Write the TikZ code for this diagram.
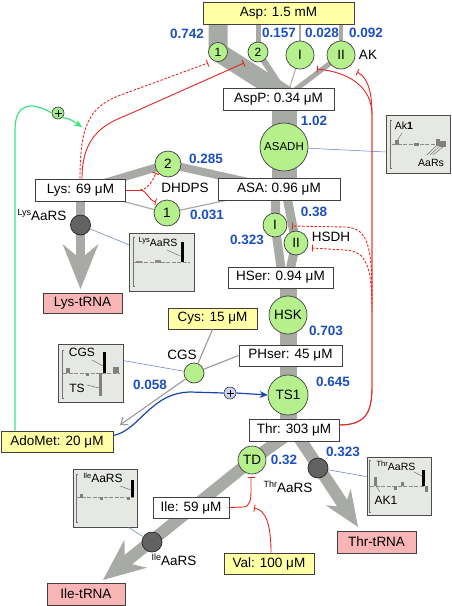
\documentclass[tikz,border=0pt]{standalone}
\usepackage{fontspec}
\setmainfont{Liberation Sans}
\usetikzlibrary{arrows.meta,backgrounds}
\definecolor{yel}{HTML}{FFFFA6}
\definecolor{pnk}{HTML}{F7B5B5}
\definecolor{grn}{HTML}{B5F08C}
\definecolor{bandc}{HTML}{A7AAA5}
\definecolor{nblue}{HTML}{1C4FBE}
\definecolor{inh}{HTML}{E4261F}
\definecolor{actc}{HTML}{3DE27E}
\definecolor{ablue}{HTML}{1B45AE}
\definecolor{insetc}{HTML}{E5E8E3}
\definecolor{darkc}{HTML}{626262}
\definecolor{infoc}{HTML}{5B78C4}
\definecolor{plusb}{HTML}{CBD6F0}
\newcommand\fsz{\fontsize{13.5}{16}\selectfont}
\newcommand\fsm{\fontsize{12}{14}\selectfont}
\newcommand\fsa{\fontsize{11.5}{13}\selectfont}
\newcommand\fss{\fontsize{10.5}{12}\selectfont}
\newcommand\sups[1]{\raisebox{4.5pt}{\fontsize{9}{9}\selectfont #1}}
\newcommand\supss[1]{\raisebox{3.5pt}{\fontsize{7.5}{8}\selectfont #1}}
\begin{document}
\begin{tikzpicture}[x=1pt,y=-1pt,
  box/.style={draw=black!75, line width=0.7pt, fill=white, inner sep=0pt, font=\fsz},
  enz/.style={circle, draw=black!75, line width=0.7pt, fill=grn, inner sep=0pt, font=\fsz},
  aars/.style={circle, draw=black!85, line width=0.7pt, fill=darkc, inner sep=0pt, minimum size=20pt},
  num/.style={text=nblue, font=\fsz\bfseries, inner sep=0pt},
  lab/.style={font=\fsz, inner sep=0pt},
  bnd/.style={draw=bandc, line cap=butt, line join=round},
  inhs/.style={draw=inh, line width=0.9pt, -{Bar[width=7pt]}},
  dsh/.style={dash pattern=on 2.5pt off 1.6pt},
  info/.style={draw=infoc, line width=0.5pt},
  insetbox/.style={draw=black!70, line width=0.8pt, fill=insetc, inner sep=0pt},
  thin/.style={draw=black!40, line width=1.1pt},
  plt/.style={draw=black!55, line width=0.5pt},
  pltd/.style={draw=black!45, line width=0.6pt, dash pattern=on 4pt off 1.5pt},
  pluss/.style={circle, draw=black!80, line width=0.6pt, inner sep=0pt, minimum size=12pt}
]
\useasboundingbox (0,0) rectangle (452,606);

% ---------- concentration boxes ----------
\node[box, fill=yel, minimum width=151pt, minimum height=22pt] (asp) at (278.5,13) {Asp: 1.5 mM};
\node[box, minimum width=111pt, minimum height=22pt] (aspP) at (278.5,99) {AspP: 0.34 μM};
\node[box, minimum width=122pt, minimum height=22pt] (asa) at (279,189) {ASA: 0.96 μM};
\node[box, minimum width=90pt, minimum height=22pt] (lys) at (80.5,190) {Lys: 69 μM};
\node[box, minimum width=105pt, minimum height=21pt] (hser) at (280.5,277.5) {HSer: 0.94 μM};
\node[box, minimum width=103pt, minimum height=21pt] (phser) at (290.5,355.5) {PHser: 45 μM};
\node[box, minimum width=90pt, minimum height=22pt] (thr) at (294,430) {Thr: 303 μM};
\node[box, fill=yel, minimum width=89pt, minimum height=21pt] (cys) at (212.5,318.5) {Cys: 15 μM};
\node[box, fill=yel, minimum width=112pt, minimum height=21pt] (adomet) at (57,441.5) {AdoMet: 20 μM};
\node[box, minimum width=76pt, minimum height=21pt] (ile) at (191,507.5) {Ile: 59 μM};
\node[box, fill=yel, minimum width=90pt, minimum height=21pt] (val) at (269,563.5) {Val: 100 μM};
\node[box, fill=pnk, minimum width=79pt, minimum height=20pt] (lystrna) at (82.5,303) {Lys-tRNA};
\node[box, fill=pnk, minimum width=78pt, minimum height=22pt] (iletrna) at (86,594) {Ile-tRNA};
\node[box, fill=pnk, minimum width=79pt, minimum height=22pt] (thrtrna) at (376.5,542) {Thr-tRNA};

% ---------- enzymes ----------
\node[enz, minimum size=19pt, font=\fsm] (e1) at (218,52) {1};
\node[enz, minimum size=20pt, font=\fsm] (e2) at (258,52) {2};
\node[enz, minimum size=28pt] (akI) at (300,55) {I};
\node[enz, minimum size=28pt] (akII) at (341,55) {II};
\node[enz, minimum size=48pt, font=\fsa] (asadh) at (284,147) {ASADH};
\node[enz, minimum size=26pt] (dh2) at (168,164) {2};
\node[enz, minimum size=26pt] (dh1) at (167,213) {1};
\node[enz, minimum size=24pt] (hsI) at (275,225) {I};
\node[enz, minimum size=24pt] (hsII) at (296,243) {II};
\node[enz, minimum size=38pt] (hsk) at (288,315) {HSK};
\node[enz, minimum size=40pt] (ts1) at (288,395) {TS1};
\node[enz, minimum size=28pt] (td) at (252,460) {TD};
\node[enz, minimum size=20pt] (cgs) at (194,373) {};
\node[aars] (lysaars) at (80.5,225) {};
\node[aars] (ileaars) at (152,542) {};
\node[aars] (thraars) at (318,468) {};

% ---------- labels ----------
\node[lab] at (368,55) {AK};
\node[lab] at (185,188) {DHDPS};
\node[lab] at (331,237) {HSDH};
\node[lab] at (182,355) {CGS};
\node[lab] at (42,215) {\sups{Lys}AaRS};
\node[lab] at (174,560) {\sups{Ile}AaRS};
\node[lab] at (288,487) {\sups{Thr}AaRS};

% ---------- flux numbers ----------
\node[num] at (187,34) {0.742};
\node[num] at (279,33) {0.157};
\node[num] at (322,33) {0.028};
\node[num] at (366,33) {0.092};
\node[num] at (314,121) {1.02};
\node[num] at (206,159) {0.285};
\node[num] at (207,215) {0.031};
\node[num] at (314,212) {0.38};
\node[num] at (247,240) {0.323};
\node[num] at (326,331) {0.703};
\node[num] at (333,382) {0.645};
\node[num] at (150,385) {0.058};
\node[num] at (284,460) {0.32};
\node[num] at (343,452) {0.323};

% ---------- coordinates ----------
\coordinate (conv) at (287,96);
\coordinate (a1) at (276,192);
\coordinate (a2) at (286,192);
\coordinate (h1) at (282,275);
\coordinate (h2) at (289,275);
\coordinate (lystip) at (80.5,289);
\coordinate (iletip) at (103,580);
\coordinate (thrtip) at (358,527);

% ---------- flux bands ----------
\begin{scope}[on background layer]
\draw[bnd, line width=19pt] (asp.center -| e1) -- (e1.center) -- (conv);
\draw[bnd, line width=5pt] (asp.center -| e2) -- (e2.center);
\draw[bnd, line width=6pt] (e2.center) -- (conv);
\draw[bnd, line width=2pt] (asp.center -| akI) -- (akI.center);
\draw[bnd, line width=1pt] (akI.center) -- (conv);
\draw[bnd, line width=4pt] (asp.center -| akII) -- (akII.center);
\draw[bnd, line width=5pt] (akII.center) -- (conv);
\draw[bnd, line width=25pt] (aspP.center -| asadh) -- (asa.center -| asadh);
\draw[bnd, line width=8pt] (lys.center) -- (dh2.center) -- (asa.center);
\draw[bnd, line width=1.2pt] (lys.center) -- (dh1.center) -- (asa.center);
\draw[bnd, line width=9pt] (a1) -- (hsI.center) -- (h1);
\draw[bnd, line width=9pt] (a2) -- (hsII.center) -- (h2);
\draw[bnd, line width=17pt] (hser.center -| ts1) -- (thr.center -| ts1);
\draw[bnd, line width=9pt, -{Stealth[length=45pt,width=36pt,inset=15pt,line width=0pt]}] (lys.center) -- (lystip);
\draw[bnd, line width=12pt] (thr.center) -- (td.center);
\draw[bnd, line width=12pt, -{Stealth[length=42pt,width=36pt,inset=14pt,line width=0pt]}] (td.center) -- (iletip);
\draw[bnd, line width=12pt, -{Stealth[length=36pt,width=30pt,inset=12pt,line width=0pt]}] (thr.center) -- (thrtip);
\end{scope}

% ---------- insets ----------
\node[insetbox, minimum width=65pt, minimum height=58pt] (lysin) at (161.5,262) {};
\node[insetbox, minimum width=64pt, minimum height=58pt] (akin) at (418,144) {};
\node[insetbox, minimum width=65pt, minimum height=58pt] (cgsin) at (90.5,373) {};
\node[insetbox, minimum width=64pt, minimum height=58pt] (ilein) at (105,498) {};
\node[insetbox, minimum width=64pt, minimum height=58pt] (thrin) at (399,486) {};

% Lys inset
\draw[plt] (135,237) -- (133,237) -- (133,286) -- (135,286);
\draw[pltd] (133,262) -- (190,262);
\fill[black!45] (136,261) rectangle (142,263);
\fill[black!45] (155,260) rectangle (161,263);
\fill[black] (180.5,242) rectangle (184,262);
\node[inner sep=0pt, font=\fss] at (158,242) {\supss{Lys}AaRS};
\draw[plt] (167,250) -- (180,256);
% AK inset
\draw[plt] (392,120) -- (390,120) -- (390,168) -- (392,168);
\draw[pltd] (392,144) -- (446,144);
\fill[black!50] (395,140) rectangle (399,145);
\fill[black!50] (414,143) rectangle (419,146);
\fill[black!50] (436,139) rectangle (440,146);
\fill[black!50] (440,141) rectangle (446,147);
\node[inner sep=0pt, font=\fss] at (404,126) {Ak\textbf{1}};
\draw[plt] (402,133) -- (397,141);
\node[inner sep=0pt, font=\fss] at (431,163) {AaRs};
\draw[plt] (427,155) -- (436,146);
\draw[plt] (430,155) -- (440,146);
\draw[plt] (433,155) -- (444,146);
% CGS inset
\draw[plt] (64,350) -- (62,350) -- (62,398) -- (64,398);
\draw[pltd] (63,373) -- (120,373);
\fill[black!50] (66,368) rectangle (70,373);
\fill[black!50] (86,373) rectangle (89,376);
\fill[black!50] (113,367) rectangle (119,373);
\fill[black] (103,352) rectangle (106,373);
\fill[black!50] (99,373) rectangle (102,396);
\node[inner sep=0pt, font=\fsm] at (82,352) {CGS};
\draw[plt] (92,360) -- (103,366);
\node[inner sep=0pt, font=\fsm] at (77,388) {TS};
\draw[plt] (87,385) -- (99,388);
% Ile inset
\draw[plt] (78,474) -- (76,474) -- (76,522) -- (78,522);
\draw[pltd] (76,497) -- (134,497);
\fill[black!50] (80,494) rectangle (83,498);
\fill[black!50] (100,497) rectangle (103,500);
\fill[black!50] (127,497) rectangle (130,500);
\fill[black] (131,480) rectangle (134,497);
\node[inner sep=0pt, font=\fsm] at (103,478) {\supss{Ile}AaRS};
\draw[plt] (120,486) -- (131,490);
% Thr inset
\draw[plt] (371,460) -- (369,460) -- (369,512) -- (371,512);
\draw[pltd] (370,486) -- (428,486);
\fill[black!50] (374,477) rectangle (377,486);
\fill[black!50] (394,486) rectangle (397,490);
\fill[black!50] (401,482) rectangle (404,486);
\fill[black!50] (425,486) rectangle (428,492);
\fill[black] (422,470) rectangle (425,486);
\node[inner sep=0pt, font=\fss] at (396,466) {\supss{Thr}AaRS};
\draw[plt] (414,472) -- (422,476);
\node[inner sep=0pt, font=\fsm] at (386,500) {AK1};
\draw[plt] (380,492) -- (376,486);

% ---------- info links ----------
\draw[info] (asadh) -- ([yshift=-8pt]akin.west);
\draw[info] (lysaars) -- ([yshift=-12pt]lysin.north west);
\draw[info] (cgs) -- ([yshift=-17pt]cgsin.north east);
\draw[info] (ileaars) -- ([xshift=-9pt]ilein.south east);
\draw[info] (thraars) -- ([yshift=-20pt]thrin.north west);

% ---------- CGS reaction ----------
\draw[thin] (cys.south) -- (cgs);
\draw[thin] (phser.west) -- (cgs);
\coordinate (cgstip) at (120,425);
\draw[thin, -{Straight Barb[length=6pt,width=9pt]}] (cgs) -- (cgstip);

% ---------- inhibitions ----------
\coordinate (tAkI) at (317,69);
\coordinate (tAkII) at (357,72);
\coordinate (tE1) at (208,63);
\coordinate (tE2) at (244,63);
\coordinate (tHsI) at (292,226);
\coordinate (tHsII) at (312,248);
\coordinate (tTD) at (251,477);
\coordinate (tJ) at (254,508);
\coordinate (tDh2) at (156,173);
\coordinate (tDh1) at (156,202);
\coordinate (lysF) at (140,190);
\coordinate (jI) at (372,300);
\coordinate (jII) at (372,312);

\draw[inhs] ([yshift=5pt]thr.east) .. controls (368,425) and (372,410) .. (372,385) -- (372,115) .. controls (372,86) and (348,72) .. (tAkI);
\draw[inhs] ([yshift=5pt]thr.east) .. controls (368,425) and (372,410) .. (372,385) -- (372,115) .. controls (372,95) and (369,78) .. (tAkII);
\draw[inhs, dsh] (jI) .. controls (372,245) and (368,228) .. (345,227) -- (tHsI);
\draw[inhs, dsh] (jII) .. controls (372,265) and (366,251) .. (345,250) -- (tHsII);

\draw[inhs] ([xshift=1.5pt]lys.north) .. controls (82,145) and (95,127) .. (125,116) -- (tE2);
\draw[inhs, dsh] ([xshift=-0.5pt]lys.north) .. controls (80,128) and (88,108) .. (118,96) -- (tE1);
\draw[draw=inh, line width=0.9pt] (lys.east) -- (lysF);
\draw[inhs, dsh] (lysF) .. controls (148,189) and (152,182) .. (tDh2);
\draw[inhs] (lysF) .. controls (148,191) and (148,200) .. (tDh1);

\draw[inhs] (ile.east) -- (243,507) .. controls (250,507) and (251,500) .. (251,490) -- (tTD);
\draw[inhs] ([xshift=2pt]val.north) .. controls (271,525) and (266,510) .. (tJ);

% ---------- activations ----------
\node[pluss, fill=grn!80!actc] (pg) at (58,113) {};
\draw[line width=0.8pt] ([xshift=-3.5pt]pg.center) -- ([xshift=3.5pt]pg.center);
\draw[line width=0.8pt] ([yshift=-3.5pt]pg.center) -- ([yshift=3.5pt]pg.center);
\coordinate (gtip) at (82,127);
\draw[actc, line width=1.2pt] ([xshift=-42pt]adomet.north) -- (15,130) .. controls (15,100) and (35,103) .. (pg.west);
\draw[actc, line width=1.2pt, -{Stealth[length=8pt,width=7pt]}] (pg.south east) .. controls (70,119) .. (gtip);

\node[pluss, fill=plusb] (pb) at (230,393) {};
\draw[line width=0.8pt] ([xshift=-3.5pt]pb.center) -- ([xshift=3.5pt]pb.center);
\draw[line width=0.8pt] ([yshift=-3.5pt]pb.center) -- ([yshift=3.5pt]pb.center);
\draw[ablue, line width=1.2pt] ([yshift=6pt]adomet.east) .. controls (140,430) and (150,393) .. (190,392) -- (pb.west);
\draw[ablue, line width=1.2pt, -{Stealth[length=8pt,width=7pt]}] (pb.east) -- (ts1.west);
\end{tikzpicture}
\end{document}
